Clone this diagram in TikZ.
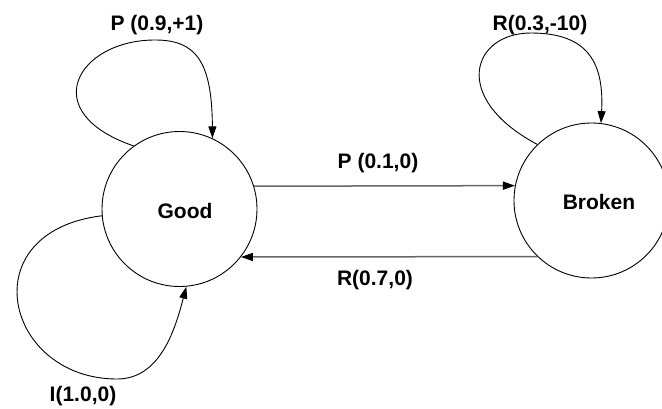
\documentclass[tikz,border=0pt]{standalone}
\usepackage{fontspec}
\setmainfont{Liberation Sans}
\usetikzlibrary{arrows.meta}
\begin{document}
\begin{tikzpicture}[x=1pt,y=-1pt,
  state/.style={circle,draw,line width=0.9pt,minimum size=155pt,inner sep=0pt},
  txt/.style={font=\fontsize{21}{25}\selectfont\bfseries,inner sep=0pt},
  loop/.style={line width=0.9pt,-{Triangle[length=12pt,width=8pt]}},
  trans/.style={line width=1.5pt,draw=black!60,
                -{Triangle[length=12pt,width=8pt,fill=black,color=black]}}]
  \useasboundingbox (0,0) rectangle (662,408);

  % states
  \node[state] (good) at (179.5,209) {};
  \node[state] (broken) at (591.5,200.5) {};
  \node[txt] (goodtxt) at (185,211) {Good};
  \node[txt] (brokentxt) at (599,202) {Broken};

  % transitions between the states
  \draw[trans] (good.17.3) -- (broken.169.1);
  \draw[trans] (broken.226.5) -- (good.322.7);
  \node[txt] (p01) at (378,163) {P (0.1,0)};
  \node[txt] (r07) at (375,280) {R(0.7,0)};

  % self loops
  \draw[loop] (good.126.9) .. controls (35,112) and (78,40) .. (155,40)
              .. controls (195,40) and (212,60) .. (good.65.7);
  \node[txt] (p09) at (157,25) {P (0.9,+1)};

  \draw[loop] (broken.134) .. controls (450,98) and (472,33) .. (531,33)
              .. controls (590,33) and (604,65) .. (broken.83.7);
  \node[txt] (r03) at (540,25) {R(0.3,-10)};

  \draw[loop] (good.185.9) .. controls (-30,232) and (5,379) .. (117,379)
              .. controls (160,379) and (175,330) .. (good.275.4);
  \node[txt] (i10) at (83,396) {I(1.0,0)};
\end{tikzpicture}
\end{document}
